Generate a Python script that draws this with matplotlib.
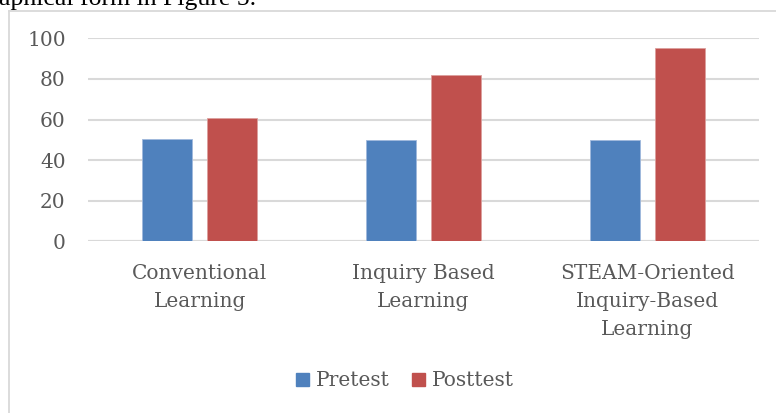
import numpy as np
import matplotlib.pyplot as plt
from matplotlib.lines import Line2D

# Chart data
categories = ["Conventional\nLearning", "Inquiry Based\nLearning", "STEAM-Oriented\nInquiry-Based\nLearning"]
pretest = [50.4, 50.0, 50.0]
posttest = [60.6, 81.9, 95.1]
y_ticks = [0, 20, 40, 60, 80, 100]

blue = "#4f81bd"
red = "#c0504d"
grey_text = "#595959"
grid_col = "#d9d9d9"

fig = plt.figure(figsize=(7.76, 4.13), dpi=100)
ax = fig.add_axes([88 / 776, 1 - 241.3 / 413, (759 - 88) / 776, (241.3 - 38.3) / 413])

x = np.arange(len(categories))
w = 0.223
off = 0.145
ax.bar(x - off, pretest, w, color=blue, edgecolor="#9fb8dc", linewidth=0.6, label="Pretest", zorder=3)
ax.bar(x + off, posttest, w, color=red, edgecolor="#dc9f9d", linewidth=0.6, label="Posttest", zorder=3)

ax.set_xlim(-0.5, 2.5)
ax.set_ylim(0, 100)
ax.set_yticks(y_ticks)
ax.set_xticks(x)
ax.set_xticklabels(categories, linespacing=1.6)
for lbl in ax.get_xticklabels() + ax.get_yticklabels():
    lbl.set_fontfamily("DejaVu Serif")
    lbl.set_fontsize(14.5)
    lbl.set_color(grey_text)
ax.tick_params(axis="y", length=0, pad=16)
ax.tick_params(axis="x", length=0, pad=16)
ax.grid(axis="y", color=grid_col, linewidth=1.5, zorder=0)
for s in ax.spines.values():
    s.set_visible(False)
ax.axhline(0, color=grid_col, linewidth=1.5, zorder=2)

# legend
handles = [plt.Rectangle((0, 0), 1, 1, color=blue), plt.Rectangle((0, 0), 1, 1, color=red)]
leg = fig.legend(handles, ["Pretest", "Posttest"], loc="center", bbox_to_anchor=(405 / 776, 1 - 381 / 413),
                 ncol=2, frameon=False, handlelength=0.65, handleheight=0.65, handletextpad=0.35,
                 columnspacing=1.1, prop={"family": "DejaVu Serif", "size": 14.5})
for t in leg.get_texts():
    t.set_color(grey_text)

# chart border (left and top visible)
fig.add_artist(Line2D([9 / 776, 9 / 776], [0, 1 - 10.5 / 413], color=grid_col, linewidth=1.3))
fig.add_artist(Line2D([9 / 776, 1], [1 - 10.5 / 413, 1 - 10.5 / 413], color=grid_col, linewidth=1.3))

# cropped caption text from the page above the chart
fig.text(-1 / 776, 1 - 5 / 413, "aphical form in Figure 5.", family="Liberation Serif",
         fontsize=18.5, color="black", va="baseline", ha="left")

fig.savefig("out.png", dpi=100)
